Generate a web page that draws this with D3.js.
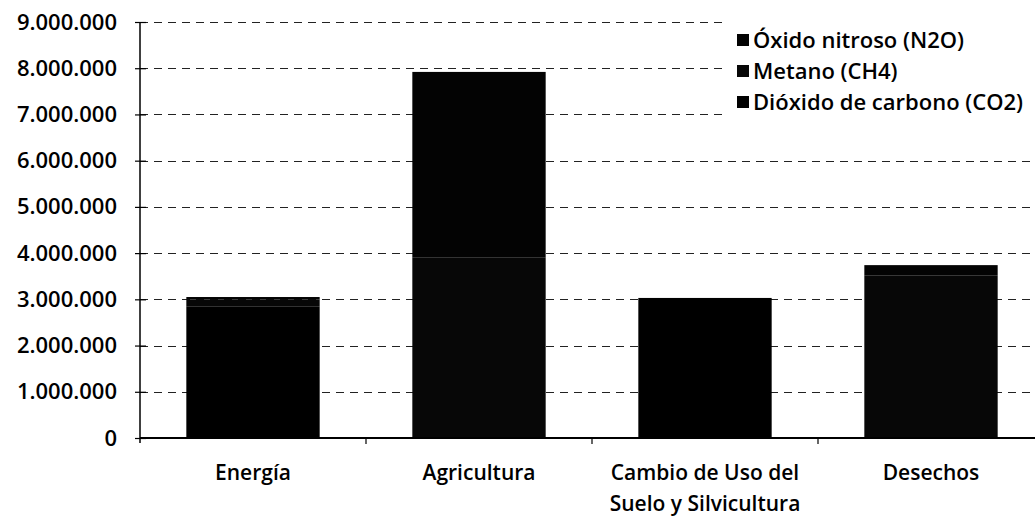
<!DOCTYPE html>
<html>
<head>
<meta charset="utf-8">
<script src="https://cdn.jsdelivr.net/npm/d3@7"></script>
<style>
  html, body { margin: 0; padding: 0; background: #fff; }
  svg { display: block; }
  text { font-family: "Open Sans", sans-serif; fill: #000; font-weight: 600; }
</style>
</head>
<body>
<svg id="chart" width="1035" height="517"></svg>
<script>
// ---- Data ----
const categories = ["Energía", "Agricultura", "Cambio de Uso del\nSuelo y Silvicultura", "Desechos"];
const seriesNames = ["Dióxido de carbono (CO2)", "Metano (CH4)", "Óxido nitroso (N2O)"];
const co2 = [2850000, 0, 3030000, 20000];
const ch4 = [150000, 3900000, 0, 3500000];
const n2o = [50000, 4020000, 0, 220000];
const yTicks = [0, 1000000, 2000000, 3000000, 4000000, 5000000, 6000000, 7000000, 8000000, 9000000];
const legendOrder = ["Óxido nitroso (N2O)", "Metano (CH4)", "Dióxido de carbono (CO2)"];
const seriesColors = ["#000000", "#070707", "#030303"]; // CO2, CH4, N2O

// ---- Layout ----
const svg = d3.select("#chart");
const plotLeft = 140, plotRight = 1044, plotTop = 22, plotBottom = 438;

const x = d3.scaleBand().domain(categories).range([plotLeft, plotRight])
  .paddingInner(0.41).paddingOuter(0.205);
const y = d3.scaleLinear().domain([0, 9000000]).range([plotBottom, plotTop]);

const locale = d3.formatLocale({ decimal: ",", thousands: ".", grouping: [3], currency: ["", ""] });
const fmt = locale.format(",.0f");

// table for stacking
const table = categories.map((c, i) => ({
  cat: c,
  [seriesNames[0]]: co2[i],
  [seriesNames[1]]: ch4[i],
  [seriesNames[2]]: n2o[i]
}));
const stacked = d3.stack().keys(seriesNames)(table);
const color = d3.scaleOrdinal().domain(seriesNames).range(seriesColors);

// gridlines
svg.append("g")
  .selectAll("line")
  .data(yTicks.filter(d => d > 0))
  .join("line")
  .attr("x1", plotLeft).attr("x2", 1035)
  .attr("y1", d => Math.round(y(d)) + 0.5).attr("y2", d => Math.round(y(d)) + 0.5)
  .attr("stroke", "#222").attr("stroke-width", 1.2)
  .attr("stroke-dasharray", "8,6");

// bars
svg.append("g")
  .selectAll("g")
  .data(stacked)
  .join("g")
  .attr("fill", d => color(d.key))
  .selectAll("rect")
  .data(d => d)
  .join("rect")
  .attr("x", d => x(d.data.cat))
  .attr("width", x.bandwidth())
  .attr("y", d => y(d[1]))
  .attr("height", d => y(d[0]) - y(d[1]));

// y axis
const yAxis = d3.axisLeft(y).tickValues(yTicks).tickFormat(fmt).tickSize(5).tickPadding(18);
const gy = svg.append("g").attr("transform", `translate(${plotLeft},0)`).call(yAxis);
gy.select(".domain").attr("stroke", "#000").attr("stroke-width", 1.5).attr("d", `M0,${plotTop}V${plotBottom + 5}`);
gy.selectAll(".tick line").attr("x1", -5).attr("x2", 6).attr("stroke", "#000").attr("stroke-width", 1.2);
gy.selectAll(".tick text").style("font-size", "22px").style("font-family", "'Open Sans', sans-serif")
  .style("font-weight", "600").attr("fill", "#000");

// x axis
const xAxis = d3.axisBottom(x).tickSize(0).tickFormat("");
const gx = svg.append("g").attr("transform", `translate(0,${plotBottom})`).call(xAxis);
gx.select(".domain").attr("stroke", "#000").attr("stroke-width", 2).attr("d", `M${plotLeft},0H1035`);
// boundary ticks
svg.append("g").selectAll("line")
  .data(categories.slice(1))
  .join("line")
  .attr("x1", d => x(d) - x.step() * x.paddingInner() / 2)
  .attr("x2", d => x(d) - x.step() * x.paddingInner() / 2)
  .attr("y1", plotBottom).attr("y2", plotBottom + 6)
  .attr("stroke", "#000").attr("stroke-width", 1.2);

// category labels
const cl = svg.append("g").selectAll("text")
  .data(categories)
  .join("text")
  .attr("x", d => x(d) + x.bandwidth() / 2)
  .attr("y", 480)
  .attr("text-anchor", "middle")
  .style("font-size", "21px");
cl.selectAll("tspan")
  .data(d => d.split("\n").map(s => ({ s, cx: x(d) + x.bandwidth() / 2 })))
  .join("tspan")
  .attr("x", d => d.cx)
  .attr("dy", (d, i) => i === 0 ? 0 : 31)
  .text(d => d.s);

// legend
const lg = svg.append("g");
lg.append("rect").attr("x", 722).attr("y", 14).attr("width", 313).attr("height", 108).attr("fill", "#fff");
const items = lg.selectAll("g.item")
  .data(legendOrder)
  .join("g")
  .attr("class", "item")
  .attr("transform", (d, i) => `translate(737,${40 + i * 31})`);
items.append("rect")
  .attr("x", 0).attr("y", -6).attr("width", 12).attr("height", 12)
  .attr("fill", d => color(d));
items.append("text")
  .attr("x", 16).attr("y", 8)
  .style("font-size", "22px")
  .text(d => d);
</script>
</body>
</html>
